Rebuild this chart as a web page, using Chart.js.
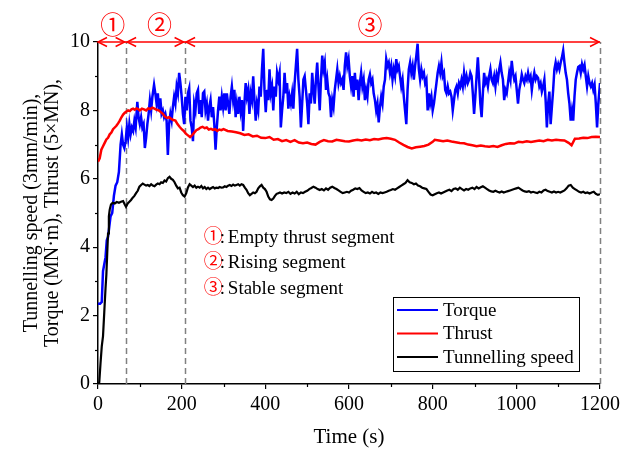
<!DOCTYPE html>
<html>
<head>
<meta charset="utf-8">
<script src="https://cdn.jsdelivr.net/npm/chart.js@4.4.0/dist/chart.umd.min.js"></script>
<style>
  html, body { margin: 0; padding: 0; background: #fff; }
  #wrap { width: 633px; height: 450px; }
</style>
</head>
<body>
<div id="wrap"><canvas id="tbmChart" width="633" height="450"></canvas></div>
<script>
// Séries : [temps (s), valeur]
const torqueData = [
[0,2.35],[5,2.35],[9,2.4],[12,3.3],[15,3.5],[18,3.7],[21,4.2],[24,4.3],[27,4.6],[30,4.9],[34,5.0],[38,5.5],[42,5.8],[46,5.9],[50,6.2],[54,7.0],[57,7.3],[60,7.0],[63,6.9],[66,7.1],[69,7.5],[72,7.2],[75,7.6],[78,7.3],[81,7.5],[84,7.4],[87,7.7],[90,7.5],[94,8.25],[97,7.8],[100,7.6],[103,7.8],[106,7.5],[109,7.6],[112,6.9],[115,7.2],[118,7.6],[121,7.9],[124,8.3],[127,8.0],[130,8.4],[134,8.75],[137,8.5],[140,8.2],[143,8.5],[146,8.0],[149,8.35],[152,7.9],[155,8.0],[158,7.8],[161,7.9],[164,7.7],[167,6.7],[170,7.6],[173,7.9],[176,7.7],[179,8.1],[182,8.4],[185,8.2],[188,8.7],[191,8.5],[194,9.1],[197,8.8],[200,8.4],
[203,7.9],[206,7.6],[209,8.4],[212,8.0],[215,8.5],[218,8.65],[221,7.7],[224,7.5],[227,7.1],[230,8.2],[233,8.0],[236,8.5],[239,8.6],[242,7.9],[245,8.3],[248,7.8],[251,8.5],[254,8.55],[257,8.0],[260,8.2],[263,7.7],[266,8.1],[269,8.3],[272,7.8],[275,8.1],[278,7.6],[281,6.85],[284,7.5],[287,8.0],[290,8.4],[293,8.0],[296,8.4],[299,8.1],[302,8.5],[305,8.0],[308,8.5],[311,8.2],[314,7.9],[317,8.4],[320,8.7],[323,8.3],[326,8.6],[329,7.8],[332,8.2],[335,7.9],[338,8.4],[341,8.0],[344,8.3],[347,7.4],[350,8.2],[353,8.8],[356,8.4],[359,8.6],[362,7.9],[365,8.5],[368,8.3],[371,9.0],[374,8.3],[377,7.7],[380,8.2],[383,8.0],[386,8.7],[389,8.4],[392,9.2],[395,9.8],[398,8.6],
[401,7.95],[404,8.6],[407,8.3],[410,9.2],[413,8.5],[416,8.7],[419,8.0],[422,8.7],[425,8.4],[428,9.1],[431,8.9],[434,9.1],[437,7.5],[440,8.0],[443,8.4],[446,9.1],[449,8.5],[452,8.8],[455,8.05],[458,8.4],[461,8.2],[464,8.5],[467,8.05],[470,8.8],[473,9.3],[476,9.8],[479,8.9],[482,8.4],[485,7.5],[488,8.2],[491,8.9],[494,9.0],[497,8.6],[500,8.2],[503,7.6],[506,8.5],[509,8.2],[512,9.1],[515,8.6],[518,8.2],[521,8.9],[524,9.4],[527,8.7],[530,8.0],[533,8.9],[536,9.6],[539,9.2],[542,9.4],[545,8.6],[548,8.9],[551,8.5],[554,8.4],[557,7.8],[560,8.3],[563,8.1],[566,8.6],[569,8.9],[572,9.2],[575,8.8],[578,9.0],[581,8.8],[584,8.9],[587,8.6],[590,9.3],[593,9.7],[596,9.3],[599,9.5],
[602,9.0],[605,8.7],[608,9.0],[611,8.4],[614,9.1],[617,8.6],[620,8.9],[623,8.3],[626,8.8],[629,9.1],[632,8.7],[635,8.9],[638,8.3],[641,8.6],[644,8.4],[647,8.9],[650,9.05],[653,8.8],[656,8.9],[659,8.5],[662,8.3],[665,8.0],[668,8.2],[671,7.65],[674,8.1],[677,8.4],[680,8.2],[683,8.7],[686,8.9],[689,9.5],[692,9.3],[695,9.4],[698,9.1],[701,9.3],[704,8.9],[707,9.2],[710,9.0],[713,9.5],[716,9.2],[719,9.3],[722,9.0],[725,8.7],[728,8.9],[731,8.4],[734,8.0],[737,7.6],[740,8.6],[743,9.2],[746,9.4],[749,9.1],[752,9.3],[755,8.9],[758,9.3],[761,9.6],[764,9.95],[767,9.2],[770,8.9],[773,9.2],[776,9.0],[779,9.1],[782,8.8],[785,8.9],[788,8.0],[791,8.5],[794,8.2],[797,8.4],
[800,8.0],[803,8.2],[806,8.5],[809,8.8],[812,9.1],[815,9.3],[818,9.1],[821,9.4],[824,9.0],[827,9.1],[830,8.6],[833,8.5],[836,8.7],[839,8.5],[842,8.55],[845,8.4],[848,8.0],[851,8.3],[854,8.6],[857,8.7],[860,8.5],[863,8.8],[866,8.7],[869,8.9],[872,8.7],[875,9.1],[878,8.8],[881,9.0],[884,8.8],[887,8.9],[890,9.1],[893,9.0],[896,8.5],[899,7.9],[902,8.4],[905,9.0],[908,9.55],[911,8.9],[914,8.2],[917,7.8],[920,8.5],[923,9.1],[926,8.8],[929,8.9],[932,8.7],[935,9.0],[938,9.2],[941,8.9],[944,8.8],[947,9.0],[950,8.7],[953,9.05],[956,8.9],[959,9.2],[962,9.4],[965,9.1],[968,8.9],[971,8.3],[974,8.6],[977,8.5],[980,8.8],[983,9.1],[986,8.9],[989,9.45],[992,9.1],[995,8.9],[998,9.0],
[1001,8.6],[1004,8.2],[1007,8.6],[1010,8.8],[1013,9.05],[1016,8.9],[1019,8.8],[1022,9.0],[1025,8.9],[1028,9.1],[1031,8.9],[1034,9.0],[1037,8.6],[1040,8.9],[1043,9.1],[1046,8.9],[1049,9.0],[1052,8.95],[1055,8.7],[1058,8.8],[1061,8.55],[1064,8.7],[1067,8.9],[1070,8.3],[1073,7.5],[1076,8.2],[1079,8.55],[1082,7.6],[1085,8.1],[1088,8.6],[1091,9.2],[1094,9.4],[1097,9.2],[1100,9.35],[1103,9.2],[1106,9.4],[1109,9.55],[1112,9.75],[1115,9.4],[1118,9.1],[1121,8.9],[1124,8.5],[1127,8.2],[1130,7.7],[1133,8.0],[1136,7.7],[1139,8.4],[1142,8.9],[1145,9.1],[1148,9.27],[1151,9.3],[1154,9.1],[1157,9.35],[1160,9.2],[1163,9.33],[1166,9.0],[1169,8.7],[1172,9.0],[1175,8.8],[1178,8.7],[1181,8.8],[1184,8.6],[1187,8.75],[1190,8.2],[1193,7.5],[1196,8.2],[1200,8.8]
];

const thrustData = [
[0,6.5],[4,6.6],[8,6.85],[12,6.95],[16,7.05],[20,7.15],[24,7.2],[28,7.3],[32,7.35],[36,7.45],[40,7.5],[44,7.55],[48,7.62],[52,7.7],[56,7.8],[60,7.88],[64,7.93],[68,7.97],[72,8.0],[76,7.98],[80,8.03],[84,8.05],[88,8.02],[92,8.06],[96,8.04],[100,8.0],[105,8.05],[110,8.03],[115,8.0],[120,8.06],[125,8.04],[130,8.08],[135,8.05],[140,8.02],[145,8.0],[150,7.95],[155,7.9],[160,7.82],[165,7.78],[170,7.8],[175,7.75],[180,7.72],[185,7.7],[190,7.6],[195,7.52],[200,7.45],[205,7.4],[210,7.32],[215,7.27],[220,7.22],[225,7.28],[230,7.35],[235,7.42],[240,7.45],[245,7.5],[250,7.52],[255,7.48],[260,7.5],[265,7.44],[270,7.46],[275,7.43],[280,7.45],[285,7.4],[290,7.44],[295,7.42],
[300,7.45],[310,7.4],[320,7.38],[330,7.36],[340,7.33],[350,7.28],[360,7.3],[370,7.24],[380,7.26],[390,7.2],[400,7.19],[410,7.22],[420,7.14],[430,7.16],[440,7.1],[450,7.13],[460,7.08],[470,7.13],[480,7.06],[490,7.04],[500,7.06],[510,7.02],[520,7.0],[530,7.08],[540,7.13],[550,7.1],[560,7.09],[570,7.14],[580,7.12],[590,7.1],[600,7.09],[610,7.12],[620,7.14],[630,7.12],[640,7.15],[650,7.13],[660,7.16],[670,7.15],[680,7.18],[690,7.19],[700,7.17],[710,7.14],[720,7.06],[730,6.99],[740,6.93],[750,6.89],[760,6.92],[770,6.94],[780,6.96],[790,7.0],[800,7.08],[805,7.14],[815,7.12],[825,7.1],[835,7.12],[845,7.09],[855,7.07],[865,7.05],[875,7.04],[885,7.0],[895,6.98],
[905,6.95],[915,6.97],[925,6.95],[935,6.94],[945,6.96],[955,6.93],[965,6.98],[975,7.02],[985,7.04],[995,7.03],[1005,7.08],[1015,7.07],[1025,7.1],[1035,7.08],[1045,7.1],[1055,7.12],[1065,7.1],[1075,7.14],[1085,7.12],[1095,7.14],[1105,7.13],[1115,7.12],[1125,7.05],[1132,6.98],[1140,7.17],[1150,7.18],[1160,7.2],[1170,7.19],[1180,7.22],[1190,7.23],[1200,7.22]
];

const speedData = [
[0,0],[3,0.05],[6,0.6],[9,1.1],[12,1.4],[15,2.1],[18,2.8],[20,3.2],[22,3.8],[24,4.4],[26,4.9],[28,5.1],[31,5.25],[35,5.3],[40,5.28],[45,5.32],[50,5.3],[55,5.33],[60,5.35],[64,5.25],[67,5.18],[71,5.28],[75,5.33],[79,5.38],[83,5.45],[87,5.5],[91,5.58],[95,5.65],[99,5.77],[103,5.82],[107,5.86],[111,5.83],[115,5.8],[119,5.82],[123,5.79],[127,5.84],[131,5.8],[135,5.78],[139,5.83],[143,5.86],[147,5.84],[151,5.9],[155,5.88],[159,5.95],[163,5.92],[167,6.02],[171,6.06],[175,6.0],[179,5.97],[183,5.9],[187,5.8],[191,5.72],[195,5.74],[199,5.6],[203,5.52],[207,5.48],[211,5.58],[215,5.75],[219,5.84],[223,5.8],[227,5.76],[231,5.8],[235,5.74],[239,5.77],[243,5.74],[247,5.79],[251,5.72],[255,5.76],[259,5.7],[263,5.74],[267,5.7],[271,5.73],[275,5.76],[279,5.72],[283,5.74],[287,5.73],[291,5.76],[295,5.74],[299,5.75],
[303,5.78],[307,5.76],[311,5.8],[315,5.82],[319,5.79],[323,5.83],[327,5.8],[331,5.82],[335,5.84],[339,5.8],[343,5.84],[347,5.82],[351,5.74],[355,5.68],[359,5.58],[363,5.52],[367,5.56],[371,5.6],[375,5.58],[379,5.62],[383,5.72],[387,5.78],[391,5.82],[395,5.74],[399,5.7],[403,5.62],[407,5.48],[411,5.4],[415,5.38],[419,5.42],[423,5.5],[427,5.56],[431,5.58],[435,5.6],[440,5.57],[445,5.6],[450,5.58],[455,5.62],[460,5.56],[465,5.6],[470,5.57],[475,5.62],[480,5.55],[485,5.6],[490,5.58],[495,5.62],[500,5.65],[505,5.7],[510,5.73],[515,5.77],[520,5.74],[525,5.7],[530,5.67],[535,5.7],[540,5.66],[545,5.72],[550,5.68],[555,5.74],[560,5.77],[565,5.73],[570,5.7],[575,5.66],[580,5.62],[585,5.58],[590,5.6],[595,5.62],
[600,5.6],[605,5.65],[610,5.68],[615,5.72],[620,5.7],[625,5.73],[630,5.66],[635,5.62],[640,5.58],[645,5.6],[650,5.57],[655,5.62],[660,5.58],[665,5.6],[670,5.56],[675,5.6],[680,5.58],[685,5.6],[690,5.62],[695,5.65],[700,5.67],[705,5.7],[710,5.68],[715,5.72],[720,5.76],[725,5.8],[730,5.84],[735,5.88],[740,5.96],[745,5.9],[750,5.88],[755,5.84],[760,5.86],[765,5.8],[770,5.78],[775,5.74],[780,5.72],[785,5.7],[790,5.62],[795,5.54],[800,5.52],[805,5.55],[810,5.58],[815,5.6],[820,5.57],[825,5.6],[830,5.63],[835,5.66],[840,5.68],[845,5.64],[850,5.7],[855,5.72],[860,5.68],[865,5.74],[870,5.7],[875,5.66],[880,5.7],[885,5.68],[890,5.72],[895,5.74],
[900,5.7],[905,5.76],[910,5.72],[915,5.75],[920,5.78],[925,5.74],[930,5.7],[935,5.66],[940,5.63],[945,5.62],[950,5.65],[955,5.62],[960,5.6],[965,5.63],[970,5.6],[975,5.62],[980,5.64],[985,5.66],[990,5.68],[995,5.7],[1000,5.72],[1005,5.74],[1010,5.7],[1015,5.66],[1020,5.63],[1025,5.62],[1030,5.64],[1035,5.6],[1040,5.62],[1045,5.6],[1050,5.58],[1055,5.62],[1060,5.6],[1065,5.66],[1070,5.68],[1075,5.64],[1080,5.62],[1085,5.6],[1090,5.63],[1095,5.6],[1100,5.62],[1105,5.6],[1110,5.63],[1115,5.66],[1120,5.72],[1125,5.8],[1130,5.82],[1135,5.74],[1140,5.7],[1145,5.66],[1150,5.62],[1155,5.6],[1160,5.62],[1165,5.58],[1170,5.6],[1175,5.57],[1180,5.6],[1185,5.62],[1190,5.56],[1195,5.53],[1200,5.55]
];

const seriesLabels = ['Torque', 'Thrust', 'Tunnelling speed'];
const seriesColors = ['#0000ff', '#ff0000', '#000000'];

// Segments : bornes en s et repères
const segmentBounds = [0, 66, 207, 1200];
const segmentMarks = ['①', '②', '③'];
const segmentMarkAt = [35, 147, 650];
const segmentNames = ['Empty thrust segment', 'Rising segment', 'Stable segment'];

const xTicksStep = 200;
const yTicksStep = 2;

const SERIF = '"Liberation Serif", "Times New Roman", serif';
const CIRCLED = '"Liberation Serif", "Noto Sans CJK SC", serif';

function toPoints(pairs) {
    return pairs.map(p => ({ x: p[0], y: p[1] }));
}

// Plugin : lignes pointillées, flèches, repères, texte et légende encadrée
const decorPlugin = {
    id: 'decor',
    beforeDatasetsDraw(chart) {
        const ctx = chart.ctx;
        const xs = chart.scales.x, ys = chart.scales.y;
        ctx.save();
        ctx.strokeStyle = '#808080';
        ctx.lineWidth = 1.5;
        ctx.setLineDash([6, 4]);
        segmentBounds.slice(1).forEach(t => {
            const px = Math.round(xs.getPixelForValue(t)) + 0.5;
            ctx.beginPath();
            ctx.moveTo(px, ys.getPixelForValue(ys.min));
            ctx.lineTo(px, ys.getPixelForValue(ys.max));
            ctx.stroke();
        });
        ctx.restore();
    },
    afterDraw(chart) {
        const ctx = chart.ctx;
        const xs = chart.scales.x, ys = chart.scales.y;
        const area = chart.chartArea;
        ctx.save();

        // graduations secondaires
        ctx.strokeStyle = '#000';
        ctx.lineWidth = 1.2;
        for (let v = ys.min + yTicksStep / 2; v < ys.max; v += yTicksStep) {
            const py = Math.round(ys.getPixelForValue(v)) + 0.5;
            ctx.beginPath(); ctx.moveTo(area.left - 3, py); ctx.lineTo(area.left, py); ctx.stroke();
        }
        for (let t = xs.min + xTicksStep / 2; t < xs.max; t += xTicksStep) {
            const px = Math.round(xs.getPixelForValue(t)) + 0.5;
            ctx.beginPath(); ctx.moveTo(px, area.bottom); ctx.lineTo(px, area.bottom + 3); ctx.stroke();
        }

        // flèches rouges des segments
        const yTop = ys.getPixelForValue(ys.max);
        ctx.strokeStyle = '#ff0000';
        ctx.lineWidth = 1.5;
        ctx.beginPath();
        ctx.moveTo(xs.getPixelForValue(segmentBounds[0]), yTop);
        ctx.lineTo(xs.getPixelForValue(segmentBounds[segmentBounds.length - 1]), yTop);
        ctx.stroke();
        const head = (x, dir) => {
            ctx.beginPath();
            ctx.moveTo(x - dir * 9, yTop - 4.5);
            ctx.lineTo(x, yTop);
            ctx.lineTo(x - dir * 9, yTop + 4.5);
            ctx.stroke();
        };
        for (let i = 0; i < segmentBounds.length - 1; i++) {
            const a = xs.getPixelForValue(segmentBounds[i]) + (i > 0 ? 1.5 : 0);
            const b = xs.getPixelForValue(segmentBounds[i + 1]) - 1;
            head(a, -1);
            head(b, 1);
        }

        // repères cerclés en haut
        ctx.fillStyle = '#ff0000';
        ctx.font = '25px ' + CIRCLED;
        ctx.textAlign = 'center';
        ctx.textBaseline = 'middle';
        segmentMarks.forEach((m, i) => {
            ctx.fillText(m, xs.getPixelForValue(segmentMarkAt[i]), yTop - 15);
        });

        // texte explicatif
        const textX = xs.getPixelForValue(253);
        const textY = [4.27, 3.54, 2.78];
        ctx.textAlign = 'left';
        segmentNames.forEach((name, i) => {
            const py = ys.getPixelForValue(textY[i]);
            ctx.fillStyle = '#ff0000';
            ctx.font = '19px ' + CIRCLED;
            ctx.fillText(segmentMarks[i], textX, py);
            const w = ctx.measureText(segmentMarks[i]).width;
            ctx.fillStyle = '#000';
            ctx.font = '19px ' + SERIF;
            ctx.fillText(':', textX + w - 3, py);
            ctx.fillText(name, textX + w + 5, py);
        });

        // légende encadrée
        const boxR = area.right - 21, boxB = area.bottom - 13;
        const boxW = 186, boxH = 74;
        const boxL = boxR - boxW, boxT = boxB - boxH;
        ctx.fillStyle = '#fff';
        ctx.fillRect(boxL, boxT, boxW, boxH);
        ctx.strokeStyle = '#000';
        ctx.lineWidth = 1;
        ctx.strokeRect(boxL + 0.5, boxT + 0.5, boxW, boxH);
        ctx.font = '19px ' + SERIF;
        chart.data.datasets.forEach((ds, i) => {
            const py = boxT + 13 + i * 23.5;
            ctx.strokeStyle = ds.borderColor;
            ctx.lineWidth = 2;
            ctx.beginPath(); ctx.moveTo(boxL + 4, py); ctx.lineTo(boxL + 45, py); ctx.stroke();
            ctx.fillStyle = '#000';
            ctx.fillText(ds.label, boxL + 50, py + 1);
        });
        ctx.restore();
    }
};

function initChart() {
    const ctx = document.getElementById('tbmChart').getContext('2d');
    const series = [toPoints(torqueData), toPoints(thrustData), toPoints(speedData)];
    const widths = [2.5, 2.5, 2.2];

    new Chart(ctx, {
        type: 'line',
        data: {
            datasets: series.map((pts, i) => ({
                label: seriesLabels[i],
                data: pts,
                borderColor: seriesColors[i],
                borderWidth: widths[i],
                pointRadius: 0,
                tension: 0,
                fill: false,
                order: 3 - i
            }))
        },
        options: {
            responsive: false,
            animation: false,
            layout: { padding: { left: 0, right: 33, top: 42, bottom: 0 } },
            plugins: {
                legend: { display: false },
                tooltip: { enabled: false }
            },
            scales: {
                x: {
                    type: 'linear',
                    min: 0,
                    max: 1200,
                    afterFit(scale) { scale.height = 66; },
                    border: { display: true, color: '#000', width: 1.5 },
                    grid: { drawOnChartArea: false, drawTicks: true, tickLength: 5, color: '#000', lineWidth: 1.2 },
                    ticks: {
                        stepSize: xTicksStep, color: '#000', padding: 4, maxRotation: 0,
                        font: { family: SERIF, size: 20 },
                        callback: v => String(v)
                    },
                    title: { display: true, text: 'Time (s)', color: '#000', font: { family: SERIF, size: 21 }, padding: { top: 0, bottom: 0 } }
                },
                y: {
                    min: 0,
                    max: 10,
                    afterFit(scale) { scale.width = 98; },
                    border: { display: true, color: '#000', width: 1.5 },
                    grid: { drawOnChartArea: false, drawTicks: true, tickLength: 5, color: '#000', lineWidth: 1.2 },
                    ticks: { stepSize: yTicksStep, color: '#000', padding: 3, font: { family: SERIF, size: 20 }, callback: v => String(v) },
                    title: {
                        display: true,
                        text: ['Tunnelling speed (3mm/min),', 'Torque (MN·m), Thrust (5×MN),'],
                        color: '#000',
                        font: { family: SERIF, size: 20, lineHeight: 1.05 },
                        padding: { top: 21, bottom: 0 }
                    }
                }
            }
        },
        plugins: [decorPlugin]
    });
}

document.addEventListener('DOMContentLoaded', initChart);
</script>
</body>
</html>
